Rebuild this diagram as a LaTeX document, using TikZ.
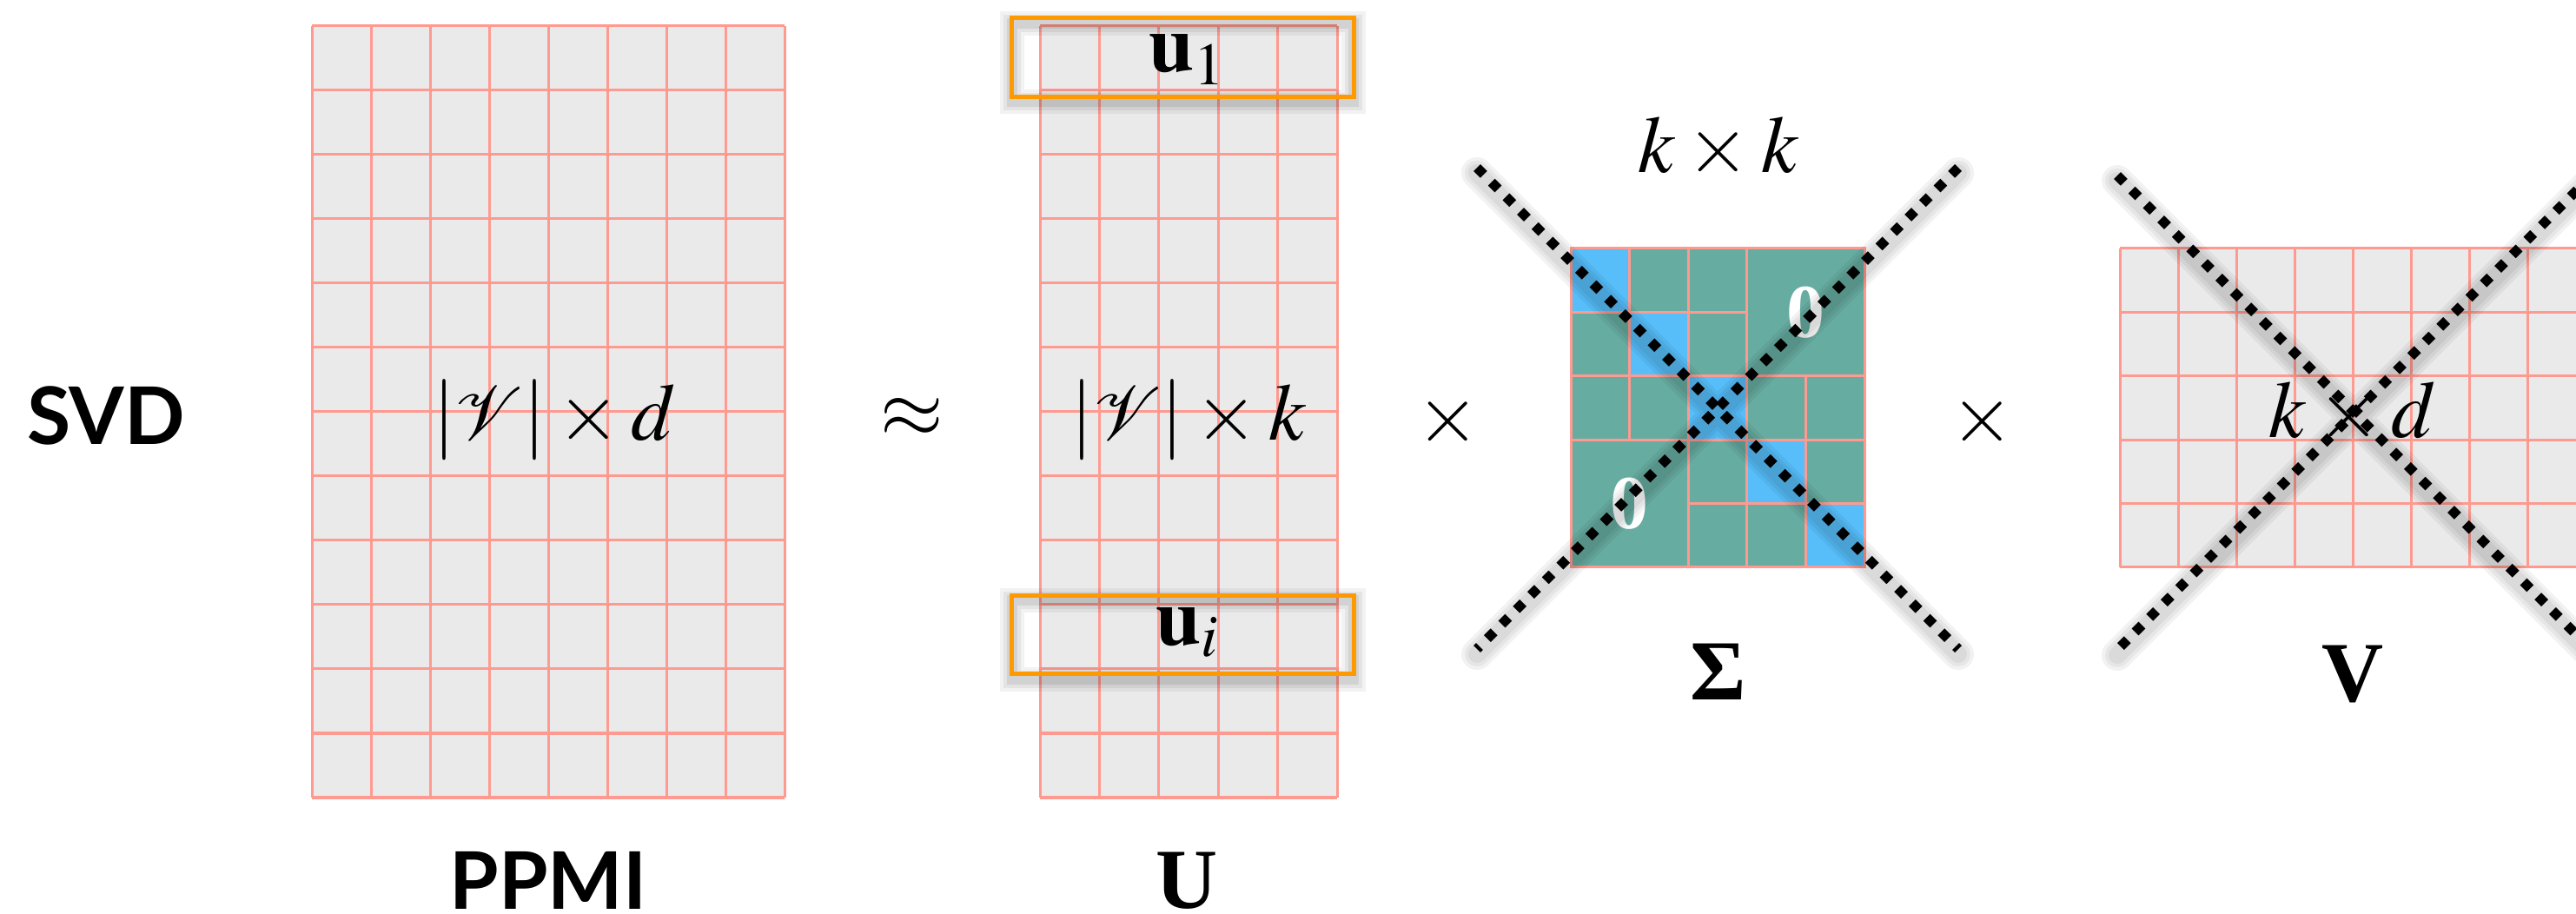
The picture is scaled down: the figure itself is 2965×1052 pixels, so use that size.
\documentclass[tikz,border=0pt]{standalone}
\usepackage{mathptmx}
\usepackage{mathrsfs}
\usepackage[no-math]{fontspec}
\setmainfont{Liberation Serif}
\newfontfamily\latofont{Lato}
\usepackage{tikz}
\definecolor{cellgray}{RGB}{234,234,234}
\definecolor{gridred}{RGB}{255,154,144}
\definecolor{sigteal}{RGB}{103,172,161}
\definecolor{sigblue}{RGB}{87,190,250}
\definecolor{boxorange}{RGB}{255,153,0}
\tikzset{
    gridline/.style={
        draw=gridred,
        line width=0.03cm
    },
    matlabel/.style={
        inner sep=1pt,
        font=\fontsize{26.5}{31}\selectfont
    },
    namelabel/.style={
        inner sep=1pt,
        font=\fontsize{28}{34}\selectfont\bfseries
    },
    sanslabel/.style={
        inner sep=1pt,
        font=\fontsize{26}{31}\selectfont\latofont\bfseries
    },
    zerolabel/.style={
        text=white,
        font=\fontsize{25}{30}\selectfont\bfseries
    },
    rowbox/.style={
        rectangle,
        draw=boxorange,
        line width=0.05cm,
        minimum width=3.93cm,
        minimum height=0.9cm,
        inner sep=0pt
    },
    xline/.style={
        line width=0.11cm,
        dash pattern=on 0.11cm off 0.126cm
    }
}

\begin{document}
\begin{tikzpicture}[x=0.01cm, y=-0.01cm]
\useasboundingbox (0,0) rectangle (2965,1052);
\clip (0,0) rectangle (2965,1052);

% PPMI matrix
\fill[cellgray] (359,30) rectangle (903,918);
\foreach \i in {0,...,8} \draw[gridline] ({359+68*\i},30) -- ({359+68*\i},918);
\foreach \j in {0,...,12} \draw[gridline] (359,{30+74*\j}) -- (903,{30+74*\j});

% U matrix
\fill[cellgray] (1197,30) rectangle (1539,918);
\foreach \i in {0,...,5} \draw[gridline] ({1197+68.4*\i},30) -- ({1197+68.4*\i},918);
\foreach \j in {0,...,12} \draw[gridline] (1197,{30+74*\j}) -- (1539,{30+74*\j});

% Sigma matrix
\fill[sigteal] (1808,286) rectangle (2146,653);
\foreach \i in {0,...,4} \fill[sigblue] ({1808+67.6*\i},{286+73.4*\i}) rectangle +(67.6,73.4);
\draw[gridline] (1808,286) rectangle (2146,653);
\draw[gridline] (1808,359.4) -- (2010.8,359.4);
\draw[gridline] (1808,432.8) -- (2146,432.8);
\draw[gridline] (1808,506.2) -- (2146,506.2);
\draw[gridline] (1943.2,579.6) -- (2146,579.6);
\draw[gridline] (1875.6,286) -- (1875.6,506.2);
\draw[gridline] (1943.2,286) -- (1943.2,653);
\draw[gridline] (2010.8,286) -- (2010.8,653);
\draw[gridline] (2078.4,432.8) -- (2078.4,653);
\node[zerolabel] (zeroup) at (2078.4,359.4) {0};
\node[zerolabel] (zerolow) at (1875.6,579.6) {0};

% V matrix
\fill[cellgray] (2440,286) rectangle (2976,653);
\foreach \i in {0,...,8} \draw[gridline] ({2440+67*\i},286) -- ({2440+67*\i},653);
\foreach \j in {0,...,5} \draw[gridline] (2440,{286+73.4*\j}) -- (2976,{286+73.4*\j});

% row boxes
\foreach \w/\o in {0.28/0.05,0.2/0.06,0.12/0.08}{
  \draw[black, opacity=\o, line width=\w cm] (1165,27) rectangle (1558,117);
  \draw[black, opacity=\o, line width=\w cm] (1165,691) rectangle (1558,782);
}
\node[rowbox] (u1box) at (1361.5,66) {};
\node[rowbox] (uibox) at (1361.5,730.5) {};
\node[matlabel, anchor=base] (u1) at (1367,83) {$\mathbf{u}_1$};
\node[matlabel, anchor=base] (ui) at (1367,742) {$\mathbf{u}_i$};

% labels
\node[sanslabel] (svd) at (122,478) {SVD};
\node[sanslabel] (ppmilabel) at (631,1013) {PPMI};
\node[matlabel] (ppmidim) at (638,484) {$|\mathscr{V}|\times d$};
\node[matlabel] (approx) at (1050,481) {$\approx$};
\node[matlabel] (udim) at (1368,484) {$|\mathscr{V}|\times k$};
\node[matlabel] (timesa) at (1667,485) {$\times$};
\node[matlabel] (sigdim) at (1978,170) {$k\times k$};
\node[matlabel] (timesb) at (2282,485) {$\times$};
\node[matlabel] (vdim) at (2708,475) {$k\times d$};
\node[namelabel] (ulabel) at (1366,1014) {U};
\node[namelabel] (siglabel) at (1978,773) {Σ};
\node[namelabel] (vlabel) at (2708,776) {V};

% crossing out
\coordinate (sa) at (1700,193);
\coordinate (sb) at (2254,747);
\coordinate (sc) at (2254,193);
\coordinate (sd) at (1700,747);
\coordinate (va) at (2437,202);
\coordinate (vb) at (2983,748);
\coordinate (vc) at (2983,202);
\coordinate (vd) at (2437,748);
\foreach \w in {0.36,0.28,0.2}{
  \draw[black, opacity=0.05, line width=\w cm, line cap=round, transform canvas={yshift=-0.06cm}] (sa) -- (sb) (sc) -- (sd) (va) -- (vb) (vc) -- (vd);
}
\draw[xline] (sa) -- (sb);
\draw[xline] (sc) -- (sd);
\draw[xline] (va) -- (vb);
\draw[xline] (vc) -- (vd);
\end{tikzpicture}
\end{document}
